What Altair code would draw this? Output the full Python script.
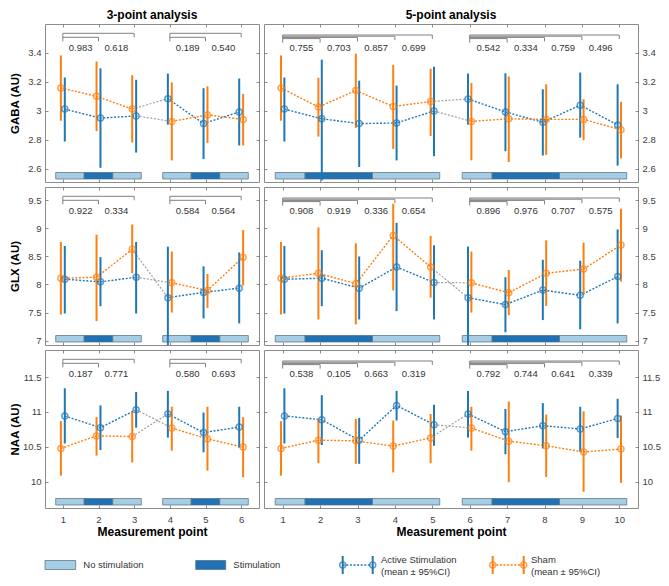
import altair as alt
import pandas as pd

# ---------------- data ----------------
metabolites = ["GABA", "GLX", "NAA"]
y_titles = ["GABA (AU)", "GLX (AU)", "NAA (AU)"]
column_titles = {3: "3-point analysis", 5: "5-point analysis"}
series_names = ["Active Stimulation", "Sham"]
stim_kinds = ["No stimulation", "Stimulation"]

points_3 = [1, 2, 3, 4, 5, 6]
points_5 = [1, 2, 3, 4, 5, 6, 7, 8, 9, 10]

y_domains = {"GABA": [2.51, 3.6], "GLX": [6.92, 9.74], "NAA": [9.62, 11.89]}
y_ticks = {"GABA": [2.6, 2.8, 3.0, 3.2, 3.4],
           "GLX": [7, 7.5, 8, 8.5, 9, 9.5],
           "NAA": [10, 10.5, 11, 11.5]}

# GABA, 3-point
gaba3_active_mean = [3.013, 2.951, 2.966, 3.085, 2.913, 2.993]
gaba3_active_lo = [2.789, 2.608, 2.713, 2.906, 2.668, 2.762]
gaba3_active_hi = [3.231, 3.294, 3.215, 3.258, 3.157, 3.224]
gaba3_sham_mean = [3.159, 3.101, 3.013, 2.928, 2.973, 2.942]
gaba3_sham_lo = [2.933, 2.861, 2.782, 2.659, 2.780, 2.762]
gaba3_sham_hi = [3.383, 3.341, 3.247, 3.197, 3.170, 3.117]
gaba3_p = ["0.983", "0.618", "0.189", "0.540"]

# GABA, 5-point
gaba5_active_mean = [3.013, 2.946, 2.913, 2.917, 3.000, 3.083, 2.993, 2.922, 3.040, 2.904]
gaba5_active_lo = [2.789, 2.520, 2.614, 2.659, 2.688, 2.906, 2.722, 2.693, 2.816, 2.623]
gaba5_active_hi = [3.231, 3.354, 3.209, 3.175, 3.305, 3.258, 3.260, 3.150, 3.265, 3.184]
gaba5_sham_mean = [3.159, 3.027, 3.141, 3.031, 3.065, 2.928, 2.946, 2.942, 2.942, 2.870]
gaba5_sham_lo = [2.933, 2.823, 2.883, 2.738, 2.827, 2.659, 2.648, 2.697, 2.798, 2.673]
gaba5_sham_hi = [3.383, 3.229, 3.395, 3.318, 3.291, 3.193, 3.238, 3.184, 3.081, 3.063]
gaba5_p = ["0.755", "0.703", "0.857", "0.699", "0.542", "0.334", "0.759", "0.496"]

# GLX, 3-point
glx3_active_mean = [8.094, 8.047, 8.129, 7.765, 7.859, 7.935]
glx3_active_lo = [7.482, 7.612, 7.482, 6.850, 7.394, 7.306]
glx3_active_hi = [8.688, 8.488, 8.759, 8.676, 8.324, 8.571]
glx3_sham_mean = [8.112, 8.129, 8.629, 8.029, 7.894, 8.488]
glx3_sham_lo = [7.465, 7.347, 8.200, 7.500, 7.582, 7.982]
glx3_sham_hi = [8.759, 8.888, 9.071, 8.588, 8.188, 8.971]
glx3_p = ["0.922", "0.334", "0.584", "0.564"]

# GLX, 5-point
glx5_active_mean = [8.094, 8.112, 7.935, 8.312, 8.035, 7.765, 7.641, 7.900, 7.806, 8.141]
glx5_active_lo = [7.482, 7.612, 7.376, 7.524, 7.376, 6.850, 7.147, 7.365, 7.200, 7.306]
glx5_active_hi = [8.688, 8.612, 8.500, 9.100, 8.700, 8.676, 8.129, 8.441, 8.424, 8.982]
glx5_sham_mean = [8.112, 8.200, 8.012, 8.876, 8.312, 8.029, 7.853, 8.200, 8.276, 8.706]
glx5_sham_lo = [7.465, 7.376, 7.288, 7.894, 7.765, 7.500, 7.453, 7.618, 7.818, 8.053]
glx5_sham_hi = [8.759, 9.018, 8.735, 9.441, 8.865, 8.588, 8.259, 8.788, 8.747, 9.353]
glx5_p = ["0.908", "0.919", "0.336", "0.654", "0.896", "0.976", "0.707", "0.575"]

# NAA, 3-point
naa3_active_mean = [10.943, 10.774, 11.033, 10.972, 10.703, 10.783]
naa3_active_lo = [10.547, 10.453, 10.774, 10.632, 10.420, 10.486]
naa3_active_hi = [11.340, 11.094, 11.288, 11.302, 10.991, 11.075]
naa3_sham_mean = [10.476, 10.656, 10.646, 10.769, 10.613, 10.495]
naa3_sham_lo = [10.085, 10.373, 10.274, 10.443, 10.156, 10.061]
naa3_sham_hi = [10.868, 10.925, 11.005, 11.075, 11.075, 10.925]
naa3_p = ["0.187", "0.771", "0.580", "0.693"]

# NAA, 5-point
naa5_active_mean = [10.943, 10.887, 10.594, 11.094, 10.816, 10.972, 10.717, 10.802, 10.755, 10.906]
naa5_active_lo = [10.547, 10.524, 10.255, 10.877, 10.514, 10.632, 10.392, 10.476, 10.429, 10.627]
naa5_active_hi = [11.340, 11.241, 10.915, 11.302, 11.104, 11.302, 11.042, 11.127, 11.075, 11.189]
naa5_sham_mean = [10.476, 10.594, 10.585, 10.509, 10.627, 10.769, 10.580, 10.514, 10.425, 10.467]
naa5_sham_lo = [10.085, 10.264, 10.255, 10.132, 10.264, 10.443, 9.991, 10.066, 9.854, 9.981]
naa5_sham_hi = [10.868, 10.901, 10.901, 10.877, 10.972, 11.075, 11.151, 10.962, 11.009, 10.948]
naa5_p = ["0.538", "0.105", "0.663", "0.319", "0.792", "0.744", "0.641", "0.339"]

# stimulation schedule bars (x extents in measurement-point units)
stim3_start = [0.8, 1.6, 2.4, 3.8, 4.6, 5.4]
stim3_end = [1.6, 2.4, 3.2, 4.6, 5.4, 6.2]
stim5_start = [0.8, 1.6, 3.4, 5.8, 6.6, 8.4]
stim5_end = [1.6, 3.4, 5.2, 6.6, 8.4, 10.2]
stim_kind_seq = ["No stimulation", "Stimulation", "No stimulation",
                 "No stimulation", "Stimulation", "No stimulation"]

datasets = {
    ("GABA", 3): {"active": (gaba3_active_mean, gaba3_active_lo, gaba3_active_hi),
                  "sham": (gaba3_sham_mean, gaba3_sham_lo, gaba3_sham_hi), "p": gaba3_p},
    ("GABA", 5): {"active": (gaba5_active_mean, gaba5_active_lo, gaba5_active_hi),
                  "sham": (gaba5_sham_mean, gaba5_sham_lo, gaba5_sham_hi), "p": gaba5_p},
    ("GLX", 3): {"active": (glx3_active_mean, glx3_active_lo, glx3_active_hi),
                 "sham": (glx3_sham_mean, glx3_sham_lo, glx3_sham_hi), "p": glx3_p},
    ("GLX", 5): {"active": (glx5_active_mean, glx5_active_lo, glx5_active_hi),
                 "sham": (glx5_sham_mean, glx5_sham_lo, glx5_sham_hi), "p": glx5_p},
    ("NAA", 3): {"active": (naa3_active_mean, naa3_active_lo, naa3_active_hi),
                 "sham": (naa3_sham_mean, naa3_sham_lo, naa3_sham_hi), "p": naa3_p},
    ("NAA", 5): {"active": (naa5_active_mean, naa5_active_lo, naa5_active_hi),
                 "sham": (naa5_sham_mean, naa5_sham_lo, naa5_sham_hi), "p": naa5_p},
}
stim = {3: (stim3_start, stim3_end), 5: (stim5_start, stim5_end)}

# ---------------- style / layout ----------------
BLUE = "#1f77b4"
ORANGE = "#ff7f0e"
LIGHT = "#a6cde3"
DARK = "#2171b5"
EDGE = "#4f6b80"
GREY = "#808080"
FRAME = "#8c8c8c"
TICK = "#707070"
TEXT = "#333333"
FONT = "Liberation Sans"

LEFT_W, RIGHT_W, PANEL_H = 214, 374, 158
X_OFFSET = {3: 0.055, 5: 0.045}
BR_TOP = {3: 9.3, 5: 11.0}     # px below frame top
BR_STEP = {3: 4.0, 5: 1.2}
BR_TICK = 4.0
P_TEXT = 23.5
STIM_BOTTOM, STIM_TOP = 3.0, 9.5  # px above frame bottom

color_scale = alt.Scale(domain=series_names, range=[BLUE, ORANGE])
fill_scale = alt.Scale(domain=stim_kinds, range=[LIGHT, DARK])


def panel(met_idx, design):
    met = metabolites[met_idx]
    pts = points_3 if design == 3 else points_5
    per = len(pts) // 2
    ds = datasets[(met, design)]
    y0, y1 = y_domains[met]
    upp = (y1 - y0) / PANEL_H
    off = X_OFFSET[design]

    rows = []
    for i, p in enumerate(pts):
        block = 1 if p <= per else 2
        for s, key in zip(series_names, ["active", "sham"]):
            m, lo, hi = ds[key]
            if block == 1:
                sign = 1 if key == "active" else -1
            else:
                sign = -1 if key == "active" else 1
            rows.append({"x": p + sign * off, "series": s, "grp": f"{key}{block}",
                         "block": block, "mean": m[i], "lo": lo[i], "hi": hi[i]})
    df = pd.DataFrame(rows)

    cross = []
    for a_key, b_key in [("Sham", "Active Stimulation"), ("Active Stimulation", "Sham")]:
        a = df[(df.series == a_key) & (df.block == 1)].iloc[-1]
        b = df[(df.series == b_key) & (df.block == 2)].iloc[0]
        cross.append({"x": a["x"], "y": a["mean"], "x2": b["x"], "y2": b["mean"]})
    cross_df = pd.DataFrame(cross)

    segs, labels = [], []
    for b in range(2):
        base = 1 + b * per
        ks = list(range(base + 1, base + per))
        far = ks[-1]
        offs = {k: BR_TOP[design] + (far - k) * BR_STEP[design] for k in ks}
        for k in ks:
            yl = y1 - offs[k] * upp
            yt = y1 - (offs[k] + BR_TICK) * upp
            segs.append({"x": base, "x2": k, "y": yl, "y2": yl})
            segs.append({"x": k, "x2": k, "y": yl, "y2": yt})
        segs.append({"x": base, "x2": base, "y": y1 - BR_TOP[design] * upp,
                     "y2": y1 - (max(offs.values()) + BR_TICK) * upp})
        for j, k in enumerate(ks):
            labels.append({"x": k - 0.5, "y": y1 - P_TEXT * upp,
                           "text": ds["p"][b * (per - 1) + j]})
    seg_df = pd.DataFrame(segs)
    lab_df = pd.DataFrame(labels)

    st_start, st_end = stim[design]
    stim_df = pd.DataFrame({"x": st_start, "x2": st_end, "kind": stim_kind_seq,
                            "y": y0 + STIM_BOTTOM * upp, "y2": y0 + STIM_TOP * upp})

    xs = alt.Scale(domain=[0.5, len(pts) + 0.5], nice=False, zero=False)
    ys = alt.Scale(domain=[y0, y1], nice=False, zero=False)
    col = alt.Color("series:N", scale=color_scale, legend=None)

    tick_kw = dict(domain=False, ticks=True, tickSize=3, offset=-3, tickColor=TICK,
                   tickWidth=0.8, grid=False)
    if met_idx == 2:
        x_axis = alt.Axis(orient="bottom", values=pts, labels=True, labelPadding=6,
                          title="Measurement point", titlePadding=3, **tick_kw)
    else:
        x_axis = alt.Axis(orient="bottom", values=pts, labels=False, title=None, **tick_kw)
    x_axis2 = alt.Axis(orient="top", values=pts, labels=False, title=None, **tick_kw)
    lab_expr = "'' + datum.value"
    if design == 3:
        y_axis = alt.Axis(orient="left", values=y_ticks[met], labelExpr=lab_expr,
                          labelPadding=4, title=y_titles[met_idx], titleX=-28,
                          titleFontSize=11.5, **tick_kw)
        y_axis2 = alt.Axis(orient="right", values=y_ticks[met], labels=False,
                           title=None, **tick_kw)
    else:
        y_axis = alt.Axis(orient="right", values=y_ticks[met], labelExpr=lab_expr,
                          labelPadding=4, title=None, **tick_kw)
        y_axis2 = alt.Axis(orient="left", values=y_ticks[met], labels=False,
                           title=None, **tick_kw)

    stim_layer = alt.Chart(stim_df).mark_rect(stroke=EDGE, strokeWidth=0.7).encode(
        x=alt.X("x:Q", scale=xs, axis=None), x2="x2:Q",
        y=alt.Y("y:Q", scale=ys, axis=None), y2="y2:Q",
        fill=alt.Fill("kind:N", scale=fill_scale, legend=None))
    bracket_layer = alt.Chart(seg_df).mark_rule(color=GREY, strokeWidth=1).encode(
        x=alt.X("x:Q", scale=xs, axis=x_axis2), x2="x2:Q",
        y=alt.Y("y:Q", scale=ys, axis=y_axis2), y2="y2:Q")
    p_layer = alt.Chart(lab_df).mark_text(fontSize=9.5, color=TEXT, baseline="middle").encode(
        x=alt.X("x:Q", scale=xs, axis=None), y=alt.Y("y:Q", scale=ys, axis=None),
        text="text:N")
    cross_layer = alt.Chart(cross_df).mark_rule(color="#a0a0a0", strokeWidth=1.2,
                                                 strokeDash=[2, 1.6]).encode(
        x=alt.X("x:Q", scale=xs, axis=None), x2="x2:Q",
        y=alt.Y("y:Q", scale=ys, axis=None), y2="y2:Q")
    base = alt.Chart(df)
    line_layer = base.mark_line(strokeWidth=1.4, strokeDash=[2, 1.6]).encode(
        x=alt.X("x:Q", scale=xs, axis=None), y=alt.Y("mean:Q", scale=ys, axis=None),
        color=col, detail="grp:N", order="x:Q")
    bar_layer = base.mark_rule(strokeWidth=2, clip=True).encode(
        x=alt.X("x:Q", scale=xs, axis=x_axis), y=alt.Y("lo:Q", scale=ys, axis=y_axis),
        y2="hi:Q", color=col)
    pt_layer = base.mark_point(shape="circle", filled=False, size=36, strokeWidth=1.5).encode(
        x=alt.X("x:Q", scale=xs, axis=None), y=alt.Y("mean:Q", scale=ys, axis=None),
        color=col)

    ch = alt.layer(stim_layer, bracket_layer, p_layer, cross_layer, line_layer,
                   bar_layer, pt_layer).properties(
        width=LEFT_W if design == 3 else RIGHT_W, height=PANEL_H)
    if met_idx == 0:
        ch = ch.properties(title=alt.TitleParams(column_titles[design], fontSize=12,
                                                  fontWeight="bold", offset=2,
                                                  anchor="middle", color="black"))
    return ch


# ---------------- legend cells ----------------
LEG_H = 64
LC = 52  # centre line of legend row (px inside legend cell)

leg_rect_df = pd.DataFrame({"kind": stim_kinds, "x": [0, 150.7], "x2": [30.7, 180.7],
                            "tx": [38.3, 188.3]})
leg_rect_df["y"] = LC - 4.5
leg_rect_df["y2"] = LC + 4.5
leg_rect_df["ty"] = LC

legend_left = alt.layer(
    alt.Chart(leg_rect_df).mark_rect(stroke=EDGE, strokeWidth=0.7).encode(
        x=alt.X("x:Q", scale=None, axis=None), x2="x2:Q",
        y=alt.Y("y:Q", scale=None, axis=None), y2="y2:Q",
        fill=alt.Fill("kind:N", scale=fill_scale, legend=None)),
    alt.Chart(leg_rect_df).mark_text(align="left", baseline="middle", fontSize=9.5,
                                     color=TEXT).encode(
        x=alt.X("tx:Q", scale=None, axis=None), y=alt.Y("ty:Q", scale=None, axis=None),
        text="kind:N"),
).properties(width=LEFT_W, height=LEG_H, view=alt.ViewBackground(strokeOpacity=0))

leg_sym_df = pd.DataFrame({"series": series_names, "xa": [78.7, 228.7], "xb": [108.7, 259.7],
                           "tx": [117.0, 267.0]})
leg_sym_df["yc"] = LC
leg_sym_df["ylo"] = LC - 9
leg_sym_df["yhi"] = LC + 9
leg_sym_df["t1"] = LC - 5.5
leg_sym_df["t2"] = LC + 6.5
leg_sym_df["line1"] = ["Active Stimulation", "Sham"]
leg_sym_df["line2"] = ["(mean \u00b1 95%CI)", "(mean \u00b1 95%CI)"]

lcol = alt.Color("series:N", scale=color_scale, legend=None)
lb = alt.Chart(leg_sym_df)
legend_right = alt.layer(
    lb.mark_rule(strokeWidth=1.4, strokeDash=[2, 1.6]).encode(
        x=alt.X("xa:Q", scale=None, axis=None), x2="xb:Q",
        y=alt.Y("yc:Q", scale=None, axis=None), color=lcol),
    lb.mark_rule(strokeWidth=2).encode(
        x=alt.X("xa:Q", scale=None, axis=None), y=alt.Y("ylo:Q", scale=None, axis=None),
        y2="yhi:Q", color=lcol),
    lb.mark_rule(strokeWidth=2).encode(
        x=alt.X("xb:Q", scale=None, axis=None), y=alt.Y("ylo:Q", scale=None, axis=None),
        y2="yhi:Q", color=lcol),
    lb.mark_point(shape="circle", filled=False, size=36, strokeWidth=1.5).encode(
        x=alt.X("xa:Q", scale=None, axis=None), y=alt.Y("yc:Q", scale=None, axis=None),
        color=lcol),
    lb.mark_point(shape="circle", filled=False, size=36, strokeWidth=1.5).encode(
        x=alt.X("xb:Q", scale=None, axis=None), y=alt.Y("yc:Q", scale=None, axis=None),
        color=lcol),
    lb.mark_text(align="left", baseline="middle", fontSize=9.5, color=TEXT).encode(
        x=alt.X("tx:Q", scale=None, axis=None), y=alt.Y("t1:Q", scale=None, axis=None),
        text="line1:N"),
    lb.mark_text(align="left", baseline="middle", fontSize=9.5, color=TEXT).encode(
        x=alt.X("tx:Q", scale=None, axis=None), y=alt.Y("t2:Q", scale=None, axis=None),
        text="line2:N"),
).properties(width=RIGHT_W, height=LEG_H, view=alt.ViewBackground(strokeOpacity=0))

cells = []
for mi in range(3):
    cells.append(panel(mi, 3))
    cells.append(panel(mi, 5))
cells += [legend_left, legend_right]

chart = alt.concat(*cells, columns=2, spacing=5, bounds="flush").properties(
    padding=0
).configure_view(stroke=FRAME, strokeWidth=1).configure_axis(
    labelFont=FONT, labelFontSize=9.5, labelColor="#404040",
    titleFont=FONT, titleFontSize=12, titleFontWeight="bold", titleColor="black"
).configure_title(font=FONT).configure_text(font=FONT)

chart.save("out.html", embed_options={"renderer": "svg", "actions": False})
